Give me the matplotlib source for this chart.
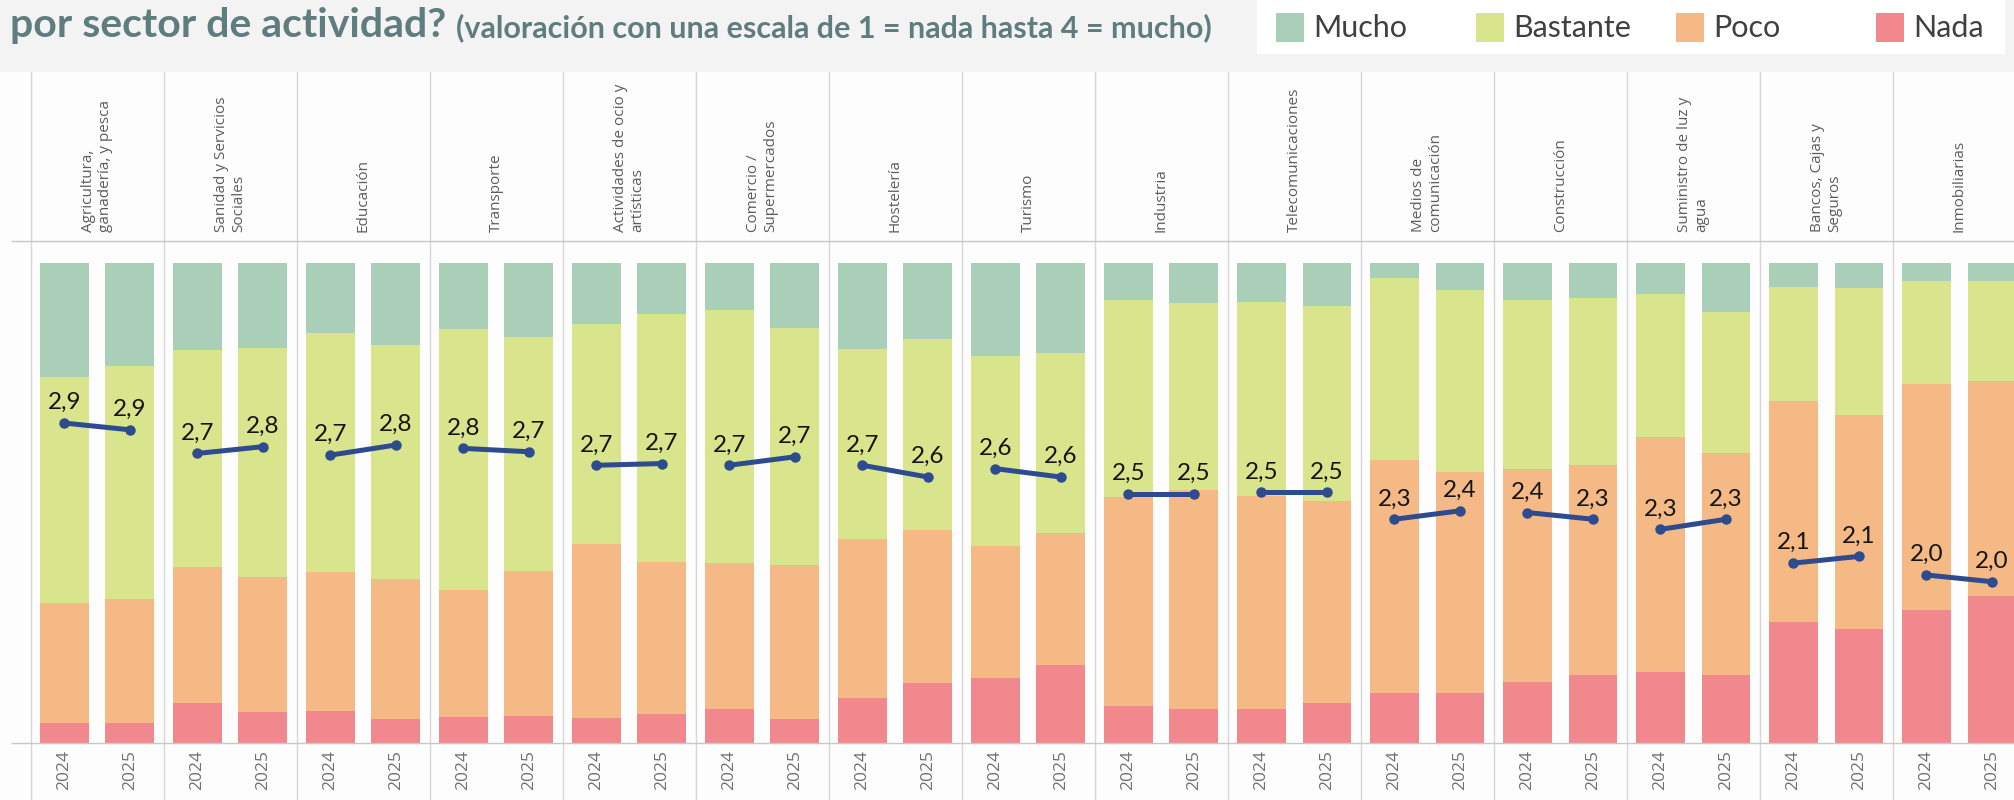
import matplotlib
matplotlib.use("Agg")
import matplotlib.pyplot as plt
from matplotlib.patches import Rectangle

# sectores (etiquetas con sus saltos de línea)
sectores = [
    "Agricultura,\nganadería, y pesca",
    "Sanidad y Servicios\nSociales",
    "Educación",
    "Transporte",
    "Actividades de ocio y\nartísticas",
    "Comercio /\nSupermercados",
    "Hostelería",
    "Turismo",
    "Industria",
    "Telecomunicaciones",
    "Medios de\ncomunicación",
    "Construcción",
    "Suministro de luz y\nagua",
    "Bancos, Cajas y\nSeguros",
    "Inmobiliarias",
]
anios = ["2024", "2025"]

# % de respuestas
mucho_24 = [23.8, 18.2, 14.6, 13.8, 12.6, 9.8, 17.9, 19.4, 7.8, 8.1, 3.2, 7.6, 6.5, 4.9, 3.8]
mucho_25 = [21.5, 17.7, 17.1, 15.5, 10.7, 13.5, 15.9, 18.7, 8.3, 8.9, 5.7, 7.2, 10.1, 5.1, 3.8]
bastante_24 = [47.0, 45.2, 49.8, 54.3, 46.0, 52.8, 39.6, 39.6, 40.9, 40.5, 37.8, 35.3, 29.8, 23.9, 21.5]
bastante_25 = [48.6, 47.8, 48.7, 48.6, 51.5, 49.4, 39.8, 37.5, 38.9, 40.7, 37.8, 34.9, 29.4, 26.5, 20.8]
poco_24 = [25.0, 28.3, 29.0, 26.5, 36.1, 30.4, 33.1, 27.4, 43.6, 44.3, 48.6, 44.3, 49.0, 45.9, 46.9]
poco_25 = [25.7, 28.1, 29.1, 30.3, 31.8, 32.0, 31.7, 27.5, 45.8, 42.1, 46.1, 43.8, 46.4, 44.6, 44.8]
nada_24 = [4.2, 8.3, 6.6, 5.4, 5.3, 7.0, 9.4, 13.6, 7.7, 7.1, 10.4, 12.8, 14.7, 25.3, 27.8]
nada_25 = [4.2, 6.4, 5.1, 5.6, 6.0, 5.1, 12.6, 16.3, 7.0, 8.3, 10.4, 14.1, 14.1, 23.8, 30.6]

# valoración media (1 = nada, 4 = mucho)
media_24 = [2.91, 2.73, 2.72, 2.76, 2.66, 2.66, 2.66, 2.64, 2.49, 2.50, 2.34, 2.38, 2.28, 2.08, 2.01]
media_25 = [2.87, 2.77, 2.78, 2.74, 2.67, 2.71, 2.59, 2.59, 2.49, 2.50, 2.39, 2.34, 2.34, 2.12, 1.97]

niveles = ["Mucho", "Bastante", "Poco", "Nada"]
colores = ["#a9cfb9", "#d8e58c", "#f5b986", "#f0888d"]
azul = "#2d4b8e"

plt.rcParams["font.family"] = ["Lato", "DejaVu Sans"]

W, H = 2015, 800
fig = plt.figure(figsize=(W / 100, H / 100), dpi=100, facecolor="#f3f3f3")

ax = fig.add_axes([0, 0, 1, 1 - 72 / H])
ax.set_facecolor("#fdfdfd")
ax.set_xlim(-0.730, 14.42)
ax.set_ylim(-11.875, 139.8)
for sp in ax.spines.values():
    sp.set_visible(False)
ax.set_xticks([])
ax.set_yticks([])

off = 0.247
ancho = 0.368
xs = list(range(len(sectores)))
x24 = [x - off for x in xs]
x25 = [x + off for x in xs]

for xpos, vals in [(x24, [mucho_24, bastante_24, poco_24, nada_24]),
                   (x25, [mucho_25, bastante_25, poco_25, nada_25])]:
    base = [0.0] * len(xs)
    # apilar desde abajo: nada, poco, bastante, mucho
    for serie, col in zip(vals[::-1], colores[::-1]):
        ax.bar(xpos, serie, width=ancho, bottom=base, color=col, linewidth=0, zorder=2)
        base = [b + s for b, s in zip(base, serie)]

# separadores de panel y lineas horizontales
for i in range(-1, len(sectores) - 1):
    ax.axvline(i + 0.5, color="#d6d6d6", lw=1, zorder=1)
ax.hlines([0, 104.6], -0.647, 14.42, color="#c8c8c8", lw=1, zorder=3)

for i, s in enumerate(sectores):
    ax.text(i, 106.5, s, rotation=90, ha="center", va="bottom", multialignment="left",
            fontsize=11, color="#5c5c5c", family=["Open Sans", "DejaVu Sans"], linespacing=1.2)
    for xp, a in zip([x24[i], x25[i]], anios):
        ax.text(xp, -1.5, a, rotation=90, ha="center", va="top", fontsize=12.5,
                color="#707070", family=["Open Sans", "DejaVu Sans"])

# valoración media
ax2 = ax.twinx()
ax2.set_ylim(0.6766, 4.99)
ax2.axis("off")
for i in xs:
    ax2.plot([x24[i], x25[i]], [media_24[i], media_25[i]], color=azul, lw=3.6,
             marker="o", markersize=6.5, solid_capstyle="round", zorder=5)
    for xp, v in [(x24[i], media_24[i]), (x25[i], media_25[i])]:
        ax2.annotate(f"{v:.1f}".replace(".", ","), (xp, v), xytext=(0, 10),
                     textcoords="offset points", ha="center", va="baseline",
                     fontsize=17.5, color="#151515")

# titulo
t = fig.text(10 / W, 1 - 37 / H, "por sector de actividad?", fontsize=29.5, fontweight="bold",
             color="#5f7c7e", va="baseline")
fig.canvas.draw()
bb = t.get_window_extent(fig.canvas.get_renderer())
fig.text((bb.x1 + 10) / W, 1 - 37 / H, "(valoración con una escala de 1 = nada hasta 4 = mucho)",
         fontsize=22, fontweight="bold", color="#5f7c7e", va="baseline")

# leyenda
fig.patches.append(Rectangle((1257 / W, 1 - 54 / H), (2005 - 1257) / W, 54 / H,
                             transform=fig.transFigure, facecolor="white", edgecolor="none"))
for k, (nom, col) in enumerate(zip(niveles, colores)):
    x0 = 1276 + 200 * k
    fig.patches.append(Rectangle((x0 / W, 1 - 42 / H), 28 / W, 29 / H,
                                 transform=fig.transFigure, facecolor=col, edgecolor="none"))
    fig.text((x0 + 37) / W, 1 - 28 / H, nom, fontsize=22, color="#404040", va="center")

fig.savefig("out.png", dpi=100, facecolor=fig.get_facecolor())
